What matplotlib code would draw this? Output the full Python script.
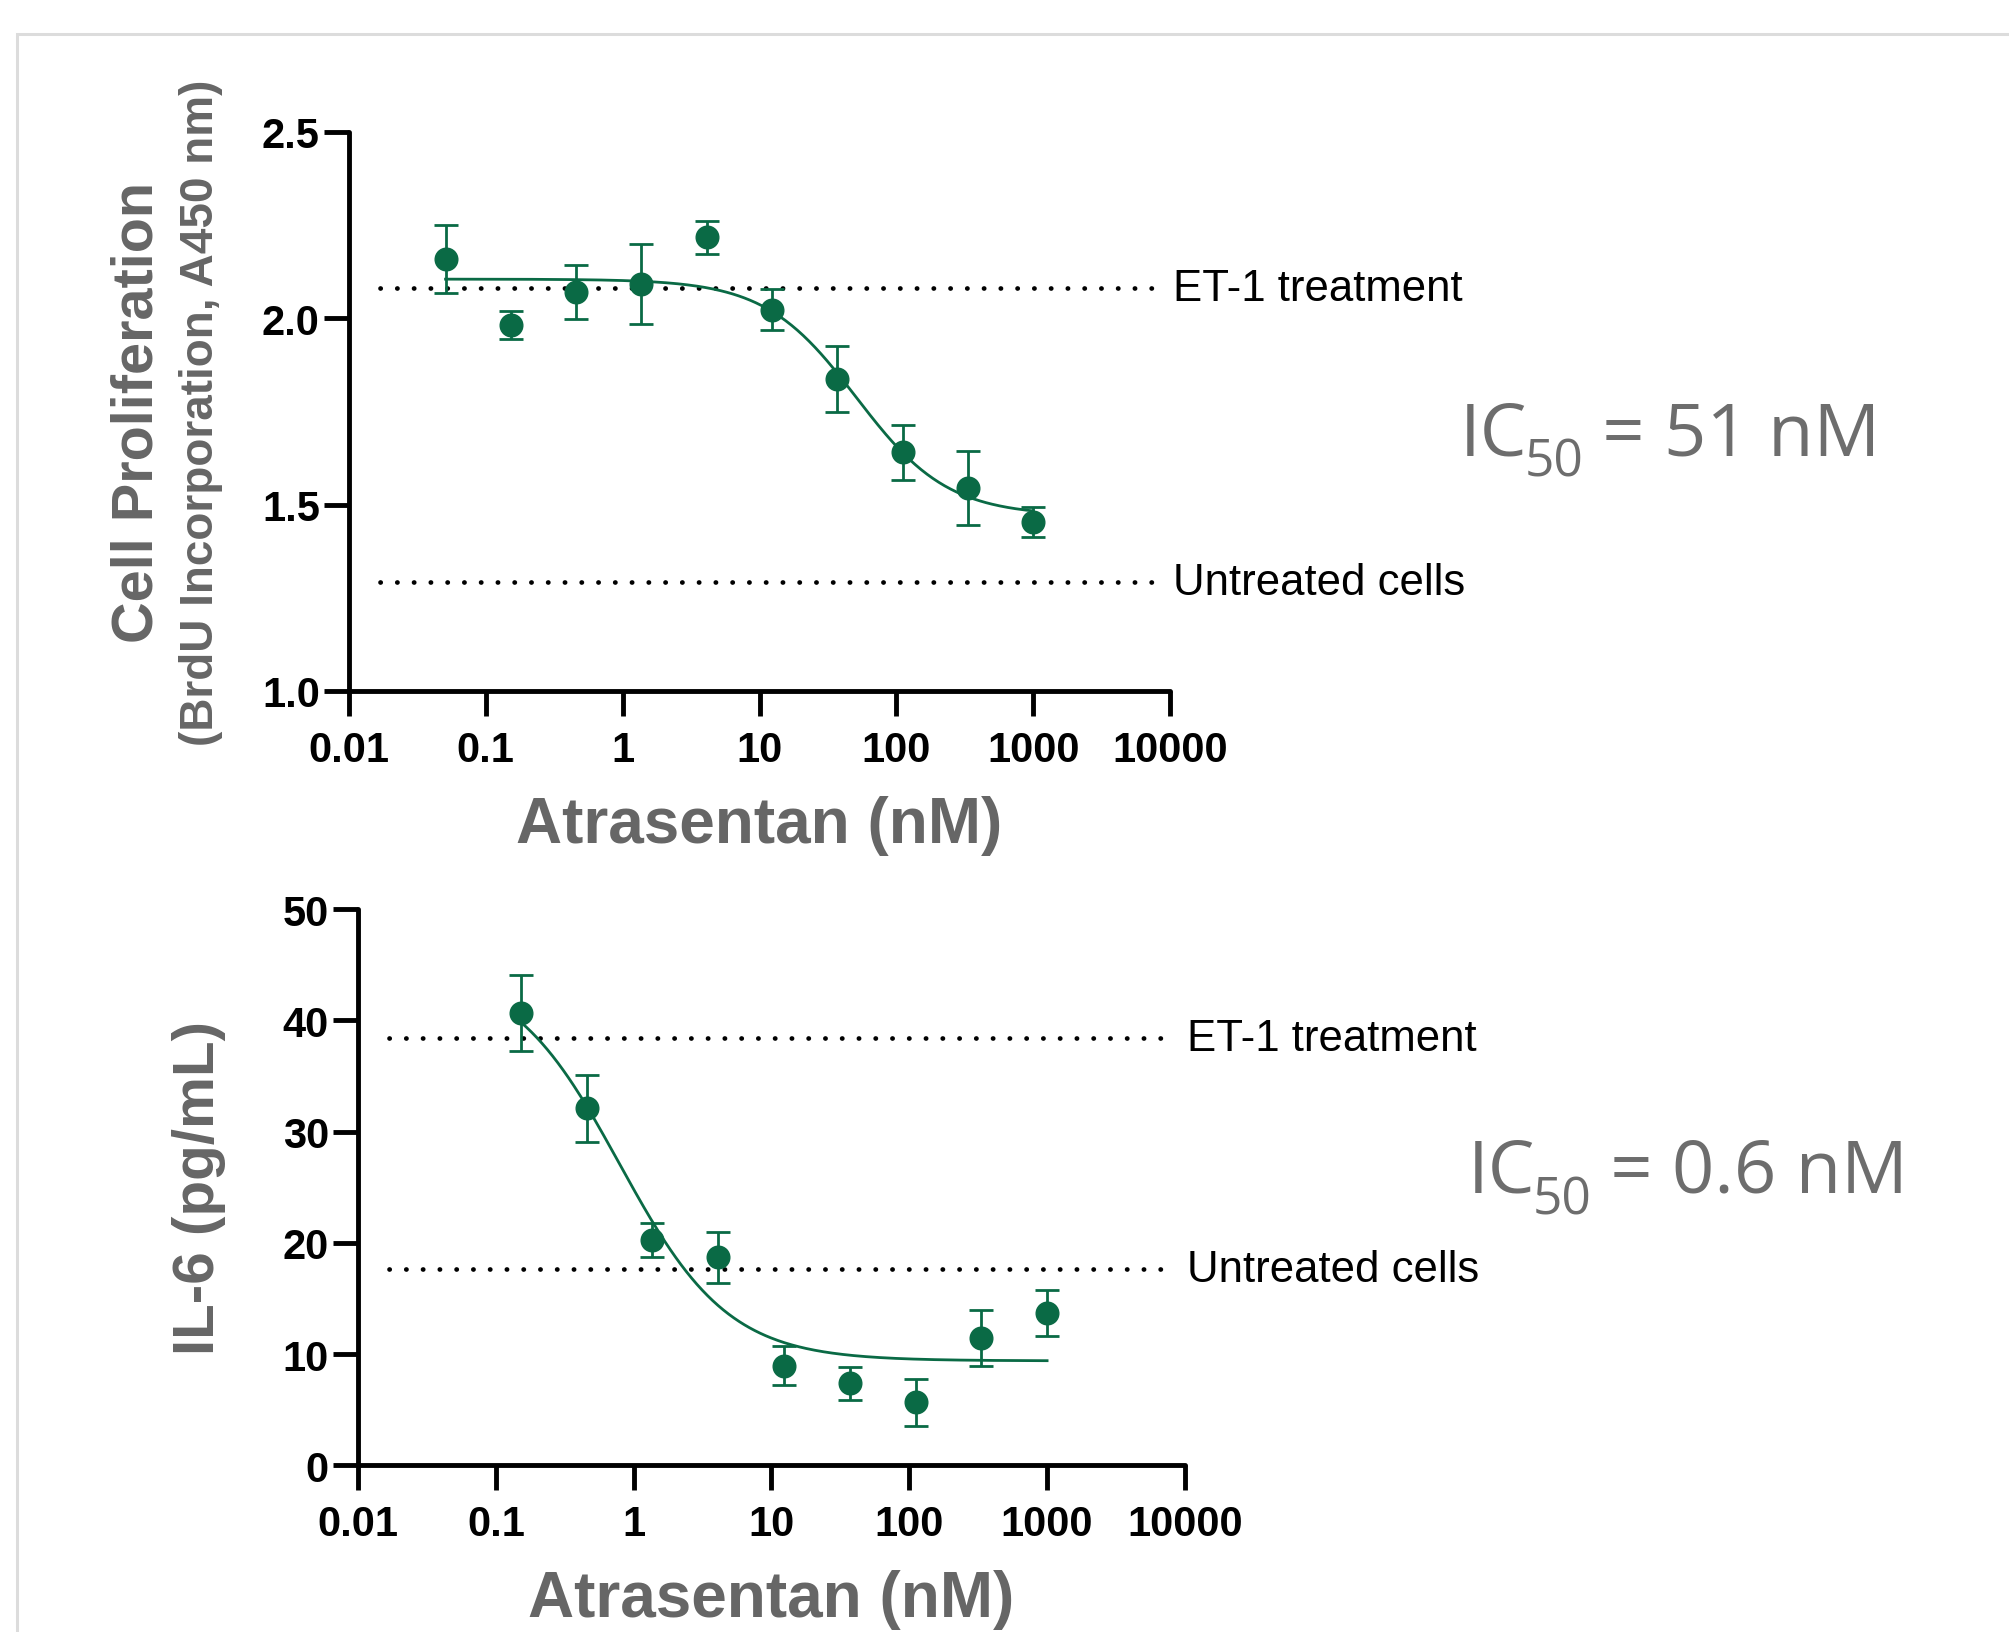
import numpy as np
import matplotlib
matplotlib.use('Agg')
import matplotlib.pyplot as plt
from matplotlib.patches import Rectangle
from matplotlib.ticker import FixedLocator, FixedFormatter

plt.rcParams['font.family'] = ['Liberation Sans', 'DejaVu Sans']

# ---- data ----
conc_top = [0.0508, 0.152, 0.457, 1.37, 4.12, 12.3, 37.0, 111, 333, 1000]
prolif = [2.159, 1.981, 2.070, 2.092, 2.217, 2.023, 1.837, 1.640, 1.545, 1.453]
prolif_err = [0.092, 0.038, 0.072, 0.107, 0.044, 0.055, 0.089, 0.074, 0.100, 0.040]
prolif_et1 = 2.081
prolif_untreated = 1.291
# 4PL fit: bottom, top, midpoint (nM), hill slope
prolif_fit = (1.47, 2.105, 51.0, 1.3)

conc_bot = [0.152, 0.457, 1.37, 4.12, 12.3, 37.0, 111, 333, 1000]
il6 = [40.66, 32.1, 20.26, 18.7, 8.97, 7.38, 5.68, 11.43, 13.7]
il6_err = [3.45, 3.0, 1.5, 2.3, 1.75, 1.5, 2.1, 2.5, 2.1]
il6_et1 = 38.4
il6_untreated = 17.65
il6_fit = (9.4, 44.8, 0.79, 1.1)

xticks = [0.01, 0.1, 1, 10, 100, 1000, 10000]
xticklabels = ['0.01', '0.1', '1', '10', '100', '1000', '10000']

green = '#0a6a45'
gray = '#666666'
W, H = 2009, 1633


def logistic(x, bottom, top, mid, hill):
    return bottom + (top - bottom) / (1 + (x / mid) ** hill)


def panel(ax, conc, vals, errs, fit, et1, untreated, ylim, yticks, yfmt):
    ax.set_xscale('log')
    ax.set_xlim(0.01, 10000)
    ax.set_ylim(*ylim)
    xs = np.geomspace(conc[0], conc[-1], 300)
    ax.plot(xs, logistic(xs, *fit), color=green, lw=2.0, zorder=3)
    ax.errorbar(conc, vals, yerr=errs, fmt='o', color=green, ms=16.3,
                capsize=8.6, elinewidth=2.0, capthick=2.0, zorder=4)
    for yv, lab in [(et1, 'ET-1 treatment'), (untreated, 'Untreated cells')]:
        ax.plot([0.0168, 7640], [yv, yv], color='black', lw=3.4,
                linestyle=(0, (0.05, 3.5)), dash_capstyle='round',
                clip_on=False, zorder=2)
        ax.text(1.003, yv, lab, transform=ax.get_yaxis_transform(),
                ha='left', va='center', fontsize=31.5, color='black')
    for s in ['top', 'right']:
        ax.spines[s].set_visible(False)
    for s in ['left', 'bottom']:
        ax.spines[s].set_linewidth(3.5)
        ax.spines[s].set_capstyle('round')
    ax.xaxis.set_major_locator(FixedLocator(xticks))
    ax.xaxis.set_major_formatter(FixedFormatter(xticklabels))
    ax.xaxis.set_minor_locator(FixedLocator([]))
    ax.set_yticks(yticks)
    ax.set_yticklabels([yfmt.format(v) for v in yticks])
    ax.tick_params(axis='x', length=18, width=3.5, pad=10, labelsize=30)
    ax.tick_params(axis='y', length=18, width=3.5, pad=3, labelsize=30)
    for t in ax.get_xticklabels() + ax.get_yticklabels():
        t.set_fontweight('bold')
    ax.set_xlabel('Atrasentan (nM)', fontsize=46, fontweight='bold',
                  color=gray, va='center')
    ax.patch.set_alpha(0)


fig = plt.figure(figsize=(W / 100, H / 100), dpi=100)
# light grey frame that runs off the right and bottom edges
frame_top = 1 - 35 / H
fig.patches.append(Rectangle((17 / W, -0.2), 1.5, frame_top + 0.2,
                             transform=fig.transFigure, fill=False,
                             edgecolor='#dcdcdc', lw=2.2))

ax1 = fig.add_axes([0.1737, 0.5763, 0.4087, 0.3423])
ax2 = fig.add_axes([0.1782, 0.1020, 0.4116, 0.3407])

panel(ax1, conc_top, prolif, prolif_err, prolif_fit, prolif_et1,
      prolif_untreated, (1.0, 2.5), [1.0, 1.5, 2.0, 2.5], '{:.1f}')
panel(ax2, conc_bot, il6, il6_err, il6_fit, il6_et1,
      il6_untreated, (0, 50), [0, 10, 20, 30, 40, 50], '{:.0f}')

ax1.xaxis.set_label_coords(0.5, -0.24)
ax2.xaxis.set_label_coords(0.5, -0.24)

ax1.text(-0.258, 0.5, 'Cell Proliferation', transform=ax1.transAxes,
         rotation=90, ha='center', va='center', fontsize=41.5,
         fontweight='bold', color=gray)
ax1.text(-0.180, 0.5, '(BrdU Incorporation, A450 nm)', transform=ax1.transAxes,
         rotation=90, ha='center', va='center', fontsize=33,
         fontweight='bold', color=gray)
ax2.text(-0.192, 0.5, 'IL-6 (pg/mL)', transform=ax2.transAxes,
         rotation=90, ha='center', va='center', fontsize=42,
         fontweight='bold', color=gray)

# IC50 annotations, built from pieces so the subscript sits low like the original
fig.canvas.draw()
renderer = fig.canvas.get_renderer()
ic_font = dict(color='#6d6d6d', family=['Open Sans', 'DejaVu Sans'], va='baseline', ha='left')


def ic50_label(x_px, base_px, rest):
    y = 1 - base_px / H
    t1 = fig.text(x_px / W, y, 'IC', fontsize=53.5, **ic_font)
    bb = t1.get_window_extent(renderer)
    t2 = fig.text(bb.x1 / W - 3 / W, y - 22 / H, '50', fontsize=37, **ic_font)
    bb2 = t2.get_window_extent(renderer)
    fig.text(bb2.x1 / W, y, rest, fontsize=53.5, **ic_font)


ic50_label(1460, 455, ' = 51 nM')
ic50_label(1468, 1193, ' = 0.6 nM')

fig.savefig('out.png', dpi=100)
